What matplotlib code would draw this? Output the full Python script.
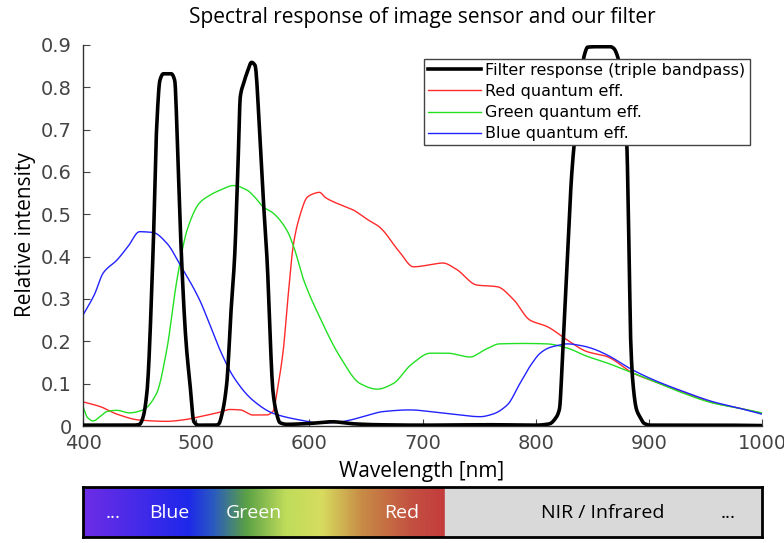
import numpy as np
import matplotlib
matplotlib.use("Agg")
import matplotlib.pyplot as plt
from matplotlib.colors import LinearSegmentedColormap

# filter response (triple bandpass)
filt_wl = [400, 430, 445, 450, 453, 456.5, 462, 465, 468, 471, 478, 481, 484, 487, 491, 494.5, 498, 502,
           510, 518, 520, 523, 527, 531, 534, 537, 539, 542, 545, 549, 552, 556, 559, 562.5, 568, 571, 574,
           580, 600, 620, 640, 660, 700, 760, 800, 812, 818, 821, 824, 828, 832, 836, 840, 843,
           846, 855, 866, 869, 872, 877, 880.5, 882.5, 884, 886, 889, 892, 896, 901, 920, 960, 1000]
filt_val = [0.002, 0.002, 0.002, 0.004, 0.02, 0.08, 0.42, 0.70, 0.817, 0.832, 0.832, 0.817, 0.62, 0.40, 0.20,
            0.10, 0.01, 0.002, 0.002, 0.002, 0.005, 0.03, 0.10, 0.28, 0.40, 0.62, 0.778, 0.81, 0.835, 0.859,
            0.852, 0.70, 0.55, 0.40, 0.078, 0.03, 0.008, 0.004, 0.006, 0.01, 0.005, 0.003, 0.002, 0.003,
            0.002, 0.005, 0.02, 0.04, 0.18, 0.40, 0.60, 0.72, 0.82, 0.876, 0.895, 0.896, 0.896,
            0.892, 0.876, 0.80, 0.668, 0.416, 0.20, 0.10, 0.04, 0.022, 0.006, 0.002, 0.002, 0.002, 0.001]

# red channel quantum efficiency
red_wl = [400, 415, 430, 450, 474, 490, 503, 520, 530, 539, 550, 562, 568, 572, 577, 581, 586, 592, 598,
          603, 609, 614, 621, 630, 639, 650, 662, 680, 692, 705, 718, 730, 748, 766, 780, 795, 810, 828,
          845, 863, 886, 905, 930, 957, 980, 1000]
red_val = [0.057, 0.046, 0.028, 0.014, 0.011, 0.015, 0.022, 0.032, 0.039, 0.038, 0.026, 0.026, 0.035, 0.09,
           0.18, 0.30, 0.43, 0.50, 0.54, 0.548, 0.552, 0.54, 0.53, 0.52, 0.51, 0.49, 0.47, 0.41, 0.376, 0.38,
           0.385, 0.37, 0.333, 0.329, 0.30, 0.25, 0.235, 0.203, 0.176, 0.164, 0.125, 0.105, 0.08, 0.055, 0.042,
           0.030]

# green channel quantum efficiency
green_wl = [400, 404, 409, 415, 421, 430, 441, 453, 465, 474, 483, 492, 503, 512, 521, 533, 545, 552, 559,
            568, 580, 586, 595, 609, 627, 645, 660, 674, 690, 707, 722, 742, 755, 768, 790, 810, 828, 845,
            863, 886, 905, 928, 957, 980, 1000]
green_val = [0.046, 0.02, 0.012, 0.022, 0.034, 0.037, 0.031, 0.038, 0.077, 0.18, 0.345, 0.463, 0.527, 0.545,
             0.557, 0.568, 0.557, 0.54, 0.518, 0.503, 0.463, 0.425, 0.345, 0.258, 0.164, 0.10, 0.087, 0.10,
             0.145, 0.172, 0.172, 0.163, 0.18, 0.194, 0.195, 0.194, 0.184, 0.165, 0.149, 0.125, 0.105, 0.08,
             0.054, 0.042, 0.031]

# blue channel quantum efficiency
blue_wl = [400, 410, 418, 430, 440, 450, 462, 474, 486, 503, 512, 521, 533, 550, 568, 592, 609, 625, 636,
           650, 665, 689, 710, 730, 751, 762, 775, 786, 796, 804, 812, 819, 828, 840, 850, 863, 886, 905,
           930, 957, 980, 1000]
blue_val = [0.262, 0.31, 0.362, 0.392, 0.425, 0.459, 0.457, 0.432, 0.38, 0.298, 0.24, 0.18, 0.116, 0.061,
            0.030, 0.014, 0.007, 0.009, 0.014, 0.024, 0.034, 0.038, 0.033, 0.027, 0.022, 0.028, 0.05, 0.10,
            0.145, 0.172, 0.185, 0.19, 0.194, 0.19, 0.183, 0.168, 0.132, 0.108, 0.082, 0.057, 0.042, 0.028]

# colour strip below the axis
strip_pos = [0.0, 0.29, 0.36, 0.45, 0.56, 0.66, 0.77, 0.91, 1.0]
strip_cols = ["#6e2de6", "#1e28eb", "#2a5ac0", "#5aa046", "#bedc5a", "#d7dc5f", "#c88c46", "#c35041", "#c33c3c"]
strip_labels = ["...", "Blue", "Green", "Red", "NIR / Infrared", "..."]
strip_label_x = [0.045, 0.127, 0.252, 0.469, 0.766, 0.950]


def pchip(xs, ys, n=1500):
    # Fritsch-Carlson monotone cubic, keeps the sharp filter edges from overshooting
    x = np.asarray(xs, float)
    y = np.asarray(ys, float)
    h = np.diff(x)
    d = np.diff(y) / h
    m = np.zeros_like(y)
    m[0], m[-1] = d[0], d[-1]
    for i in range(1, len(x) - 1):
        if d[i - 1] * d[i] > 0:
            w1 = 2 * h[i] + h[i - 1]
            w2 = h[i] + 2 * h[i - 1]
            m[i] = (w1 + w2) / (w1 / d[i - 1] + w2 / d[i])
    xx = np.linspace(x[0], x[-1], n)
    k = np.clip(np.searchsorted(x, xx) - 1, 0, len(x) - 2)
    t = (xx - x[k]) / h[k]
    yy = ((2 * t**3 - 3 * t**2 + 1) * y[k] + (t**3 - 2 * t**2 + t) * h[k] * m[k]
          + (-2 * t**3 + 3 * t**2) * y[k + 1] + (t**3 - t**2) * h[k] * m[k + 1])
    return xx, yy


fig = plt.figure(figsize=(7.84, 5.43), dpi=100)
ax = fig.add_axes([83 / 784, 1 - 426 / 543, 679 / 784, 381 / 543])

ax.plot(*pchip(filt_wl, filt_val), color="black", lw=2.6, label="Filter response (triple bandpass)", zorder=5)
ax.plot(*pchip(red_wl, red_val), color="#ff2a2a", lw=1.0, label="Red quantum eff.")
ax.plot(*pchip(green_wl, green_val), color="#22e022", lw=1.0, label="Green quantum eff.")
ax.plot(*pchip(blue_wl, blue_val), color="#2222ff", lw=1.0, label="Blue quantum eff.")

ax.set_xlim(400, 1000)
ax.set_ylim(0, 0.9)
ax.set_xticks(np.arange(400, 1001, 100))
ax.set_yticks(np.arange(0, 0.91, 0.1))
ax.set_yticklabels(["0", "0.1", "0.2", "0.3", "0.4", "0.5", "0.6", "0.7", "0.8", "0.9"])
ax.tick_params(direction="in", length=5, labelsize=14, colors="#444444")
ax.tick_params(axis="y", pad=8)
ax.tick_params(axis="x", pad=6)
ax.spines["top"].set_visible(False)
ax.spines["right"].set_visible(False)
for s in ["left", "bottom"]:
    ax.spines[s].set_color("#333333")
    ax.spines[s].set_linewidth(1.0)

fig.text(422 / 784, 1 - 18 / 543, "Spectral response of image sensor and our filter",
         ha="center", va="center", fontsize=15, family="Open Sans")
fig.text(422 / 784, 1 - 472 / 543, "Wavelength [nm]", ha="center", va="center", fontsize=15, family="Open Sans")
fig.text(26 / 784, 1 - 235 / 543, "Relative intensity", ha="center", va="center", rotation=90,
         fontsize=15, family="Open Sans")

leg = ax.legend(loc="upper left", bbox_to_anchor=((424 - 83) / 679, (426 - 59) / 381), fontsize=11.5,
                frameon=True, fancybox=False, borderpad=0.25, handlelength=3.3, handletextpad=0.3,
                labelspacing=0.38, borderaxespad=0)
leg.get_frame().set_edgecolor("#444444")
leg.get_frame().set_linewidth(1.0)
leg.get_frame().set_alpha(1)

# colour strip
sax = fig.add_axes([83 / 784, 1 - 537 / 543, 679 / 784, 50 / 543])
cmap = LinearSegmentedColormap.from_list("vis", list(zip(strip_pos, strip_cols)))
grad = np.linspace(0, 1, 512)[None, :]
vis_end = (445 - 83) / 679
sax.imshow(grad, aspect="auto", cmap=cmap, extent=[0, vis_end, 0, 1])
sax.axvspan(vis_end, 1, color="#d9d9d9")
sax.set_xlim(0, 1)
sax.set_ylim(0, 1)
sax.set_xticks([])
sax.set_yticks([])
for s in sax.spines.values():
    s.set_linewidth(2)
    s.set_color("black")
for lab, x in zip(strip_labels, strip_label_x):
    col = "white" if x < vis_end else "black"
    sax.text(x, 0.47, lab, ha="center", va="center", color=col, fontsize=14, family="Open Sans")

fig.savefig("out.png", dpi=100)
